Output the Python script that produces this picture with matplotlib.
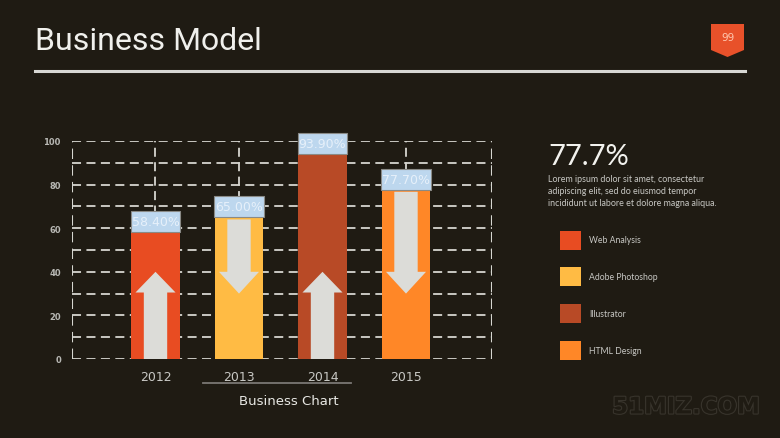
import matplotlib.pyplot as plt
from matplotlib.patches import Polygon, Rectangle
import matplotlib.patheffects as pe

years = ["2012", "2013", "2014", "2015"]
values = [58.4, 65.0, 93.9, 77.7]
series = ["Web Analysis", "Adobe Photoshop", "Illustrator", "HTML Design"]
colors = ["#e84c22", "#ffbb44", "#b84a26", "#ff8727"]
arrow_dirs = ["up", "down", "up", "down"]

bg = "#1f1b13"
grid_col = "#d6d6d0"

fig = plt.figure(figsize=(7.8, 4.39), dpi=100)
fig.patch.set_facecolor(bg)

# header
fig.text(35 / 780, 1 - 42 / 439, "Business Model", color="#f0f0ec", fontsize=23,
         family="Roboto", va="center", ha="left")
fig.add_artist(plt.Line2D([35 / 780, 745 / 780], [1 - 72 / 439] * 2, color="#d8d8d4", lw=2.2))
badge = Polygon([[711 / 780, 1 - 25 / 439], [744 / 780, 1 - 25 / 439], [744 / 780, 1 - 51 / 439],
                 [727.5 / 780, 1 - 58 / 439], [711 / 780, 1 - 51 / 439]],
                closed=True, transform=fig.transFigure, facecolor="#e8512a", edgecolor="none")
fig.add_artist(badge)
fig.text(727.5 / 780, 1 - 38 / 439, "99", color="#ffc8b0", fontsize=7.5, ha="center", va="center")

ax = fig.add_axes([72 / 780, 1 - 360 / 439, 420 / 780, 218 / 439])
ax.set_facecolor(bg)
x = list(range(1, len(years) + 1))
bw = 0.58
ax.bar(x, values, width=bw, color=colors, zorder=3)

for xi, v, d in zip(x, values, arrow_dirs):
    sw, hw = 0.14, 0.24
    if d == "up":
        base, tip, hb = 0, 40, 30.5
    else:
        base, tip, hb = v - 1, 30, 40
    pts = [[xi - sw, base], [xi - sw, hb], [xi - hw, hb], [xi, tip],
           [xi + hw, hb], [xi + sw, hb], [xi + sw, base]]
    ax.add_patch(Polygon(pts, closed=True, facecolor="#dcdcd8", edgecolor="none", zorder=4))
    ax.add_patch(Rectangle((xi - 0.295, v), 0.59, 9.6, facecolor="#bdd7ee",
                           edgecolor="#8a8a86", lw=0.8, zorder=5, clip_on=False))
    ax.text(xi, v + 4.8, f"{v:.2f}%", color="#e6f0fa", fontsize=9, ha="center",
            va="center", zorder=6)

ax.set_xlim(0, 5.03)
ax.set_ylim(0, 100)
ax.set_yticks(range(0, 101, 20))
ax.set_yticks(range(0, 101, 10), minor=True)
ax.set_xticks(x)
ax.set_xticklabels([])
for s in ax.spines.values():
    s.set_visible(False)
dash = (0, (5, 3))
ax.grid(True, which="both", axis="y", color=grid_col, ls=dash, lw=1.3, zorder=1)
ax.grid(True, axis="x", color=grid_col, ls=dash, lw=1.3, zorder=1)
for xv in [0.0, 5.03]:
    ax.axvline(xv, color=grid_col, ls=dash, lw=1.5, zorder=1)
ax.tick_params(axis="both", which="both", length=0)
ax.tick_params(axis="y", labelsize=6, labelcolor="#b8b8b4", pad=8)
for lab in ax.get_yticklabels():
    lab.set_fontweight("bold")

for xi, yr in zip(x, years):
    ax.text(xi, -7.8, yr, color="#c8c8c4", fontsize=9, ha="center", va="center")
fig.add_artist(plt.Line2D([203 / 780, 351 / 780], [1 - 384 / 439] * 2, color="#7a7874", lw=1.3))
fig.text(289 / 780, 1 - 402 / 439, "Business Chart", color="#e8e8e4", fontsize=9.5,
         ha="center", va="center")

# right side text
fig.text(548 / 780, 1 - 157 / 439, "77.7%", color="#f2f2ee", fontsize=21, ha="left",
         va="center", family="Lato")
lorem = ["Lorem ipsum dolor sit amet, consectetur",
         "adipiscing elit, sed do eiusmod tempor",
         "incididunt ut labore et dolore magna aliqua."]
for i, line in enumerate(lorem):
    fig.text(548 / 780, 1 - (180 + 11.6 * i) / 439, line, color="#c8c8c4", fontsize=6.4,
             ha="left", va="center", family="Lato")

for i, (name, c) in enumerate(zip(series, colors)):
    yc = 241 + 36.7 * i
    fig.add_artist(Rectangle((560 / 780, 1 - (yc + 9.5) / 439), 21 / 780, 19 / 439,
                             transform=fig.transFigure, facecolor=c, edgecolor="none"))
    fig.text(589 / 780, 1 - yc / 439, name, color="#c8c8c4", fontsize=6.2, ha="left",
             va="center", family="Lato")

wm = fig.text(686 / 780, 1 - 408 / 439, "51MIZ.COM", color=bg, fontsize=16.5,
              fontweight="bold", ha="center", va="center")
wm.set_path_effects([pe.withStroke(linewidth=1.6, foreground="#38342c")])

fig.savefig("out.png", dpi=100, facecolor=bg)
